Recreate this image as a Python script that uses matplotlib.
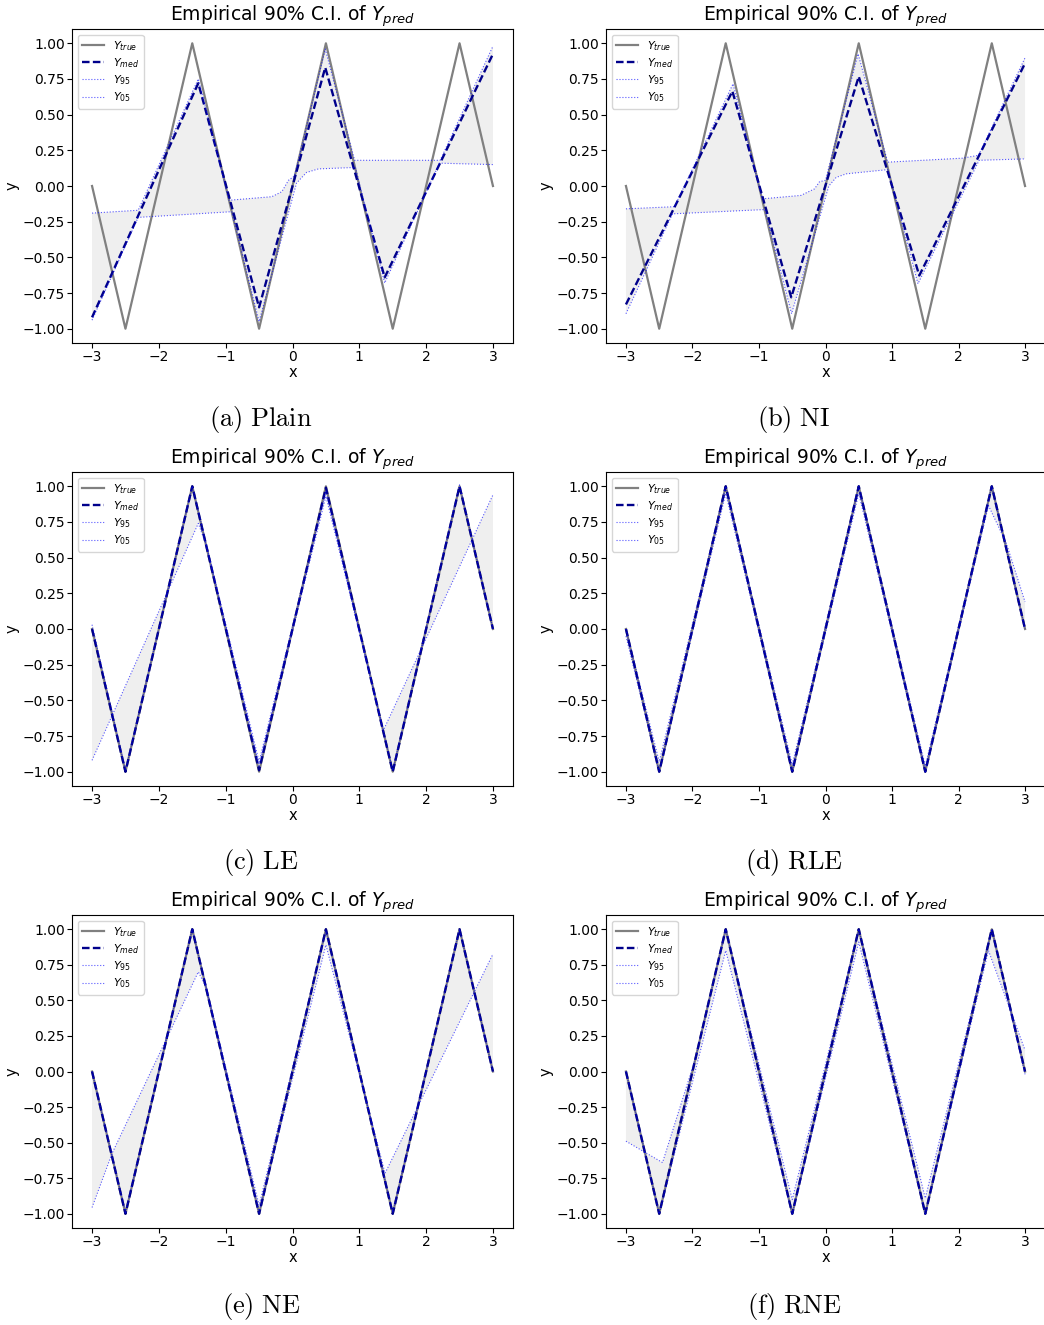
import matplotlib
matplotlib.use("Agg")
import matplotlib.pyplot as plt
import numpy as np

# ---------------- data ----------------
x_true = [-3.0, -2.5, -1.5, -0.5, 0.5, 1.5, 2.5, 3.0]
y_true = [0.0, -1.0, 1.0, -1.0, 1.0, -1.0, 1.0, 0.0]

# (a) Plain
plain_med_x = [-3.0, -1.41, -0.5, 0.49, 1.38, 3.0]
plain_med_y = [-0.92, 0.72, -0.85, 0.83, -0.64, 0.925]
plain_q95_x = [-3.0, -2.31, -1.41, -0.95, -0.31, -0.16, -0.06, 0.03, 0.49, 0.93, 2.21, 3.0]
plain_q95_y = [-0.19, -0.17, 0.75, -0.10, -0.075, -0.04, 0.04, 0.07, 0.96, 0.18, 0.18, 0.98]
plain_q05_x = [-3.0, -2.31, -0.91, -0.5, 0.06, 0.21, 0.39, 0.94, 1.38, 2.20, 3.0]
plain_q05_y = [-0.94, -0.22, -0.18, -0.95, 0.02, 0.095, 0.12, 0.13, -0.68, 0.16, 0.15]

# (b) NI
ni_med_x = [-3.0, -1.40, -0.515, 0.50, 1.41, 3.0]
ni_med_y = [-0.83, 0.664, -0.78, 0.767, -0.627, 0.86]
ni_q95_x = [-3.0, -2.27, -1.39, -0.95, -0.37, -0.165, -0.09, 0.0, 0.49, 0.935, 2.06, 2.3, 3.0]
ni_q95_y = [-0.16, -0.145, 0.716, -0.09, -0.066, -0.02, 0.03, 0.04, 0.926, 0.167, 0.195, 0.215, 0.898]
ni_q05_x = [-3.0, -2.30, -0.91, -0.51, 0.05, 0.16, 0.31, 0.94, 1.39, 2.31, 3.0]
ni_q05_y = [-0.895, -0.195, -0.165, -0.895, 0.0, 0.06, 0.085, 0.115, -0.685, 0.18, 0.19]

# (c) LE
le_med_x = [-3.0, -2.5, -1.5, -0.5, 0.5, 1.5, 2.5, 3.0]
le_med_y = [0.0, -1.0, 1.0, -0.99, 0.99, -1.0, 1.0, 0.0]
le_q95_x = [-3.0, -2.5, -1.5, -0.5, 0.5, 1.5, 2.5, 3.0]
le_q95_y = [0.03, -0.99, 1.0, -0.93, 0.97, -0.99, 1.01, 0.0]
le_q05_x = [-3.0, -1.41, -1.3, -0.5, 0.5, 1.36, 3.0]
le_q05_y = [-0.92, 0.74, 0.60, -0.96, 0.93, -0.71, 0.94]

# (d) RLE
rle_med_x = [-3.0, -2.5, -1.5, -0.5, 0.5, 1.5, 2.5, 3.0]
rle_med_y = [0.0, -1.0, 1.0, -1.0, 1.0, -1.0, 1.0, 0.0]
rle_q95_x = [-3.0, -2.5, -1.5, -0.5, 0.5, 1.5, 2.5, 3.0]
rle_q95_y = [0.0, -0.93, 1.0, -0.95, 1.0, -0.96, 1.0, 0.0]
rle_q05_x = [-3.0, -2.5, -1.5, -0.5, 0.5, 1.5, 2.45, 2.72, 3.0]
rle_q05_y = [-0.05, -1.0, 0.95, -1.0, 0.95, -1.0, 0.865, 0.60, 0.19]

# (e) NE
ne_med_x = [-3.0, -2.5, -1.5, -0.5, 0.5, 1.5, 2.5, 3.0]
ne_med_y = [0.0, -1.0, 1.0, -1.0, 1.0, -1.0, 1.0, 0.0]
ne_q95_x = [-3.0, -2.5, -1.5, -0.5, 0.5, 1.5, 2.5, 3.0]
ne_q95_y = [0.0, -0.99, 1.0, -0.94, 0.99, -0.99, 1.0, 0.0]
ne_q05_x = [-3.0, -2.7, -1.41, -1.3, -0.5, 0.5, 1.385, 3.0]
ne_q05_y = [-0.956, -0.575, 0.70, 0.60, -0.99, 0.89, -0.715, 0.826]

# (f) RNE
rne_med_x = [-3.0, -2.5, -1.5, -0.5, 0.5, 1.5, 2.5, 3.0]
rne_med_y = [0.0, -1.0, 1.0, -1.0, 1.0, -1.0, 1.0, 0.0]
rne_q95_x = [-3.0, -2.45, -1.95, -1.5, -0.5, 0.5, 1.5, 2.5, 3.0]
rne_q95_y = [-0.49, -0.64, 0.10, 1.0, -0.90, 1.0, -0.89, 1.0, -0.02]
rne_q05_x = [-3.0, -2.5, -1.5, -0.5, 0.5, 1.5, 2.45, 3.0]
rne_q05_y = [0.0, -1.0, 0.85, -1.0, 0.91, -1.0, 0.85, 0.15]

captions = ["(a) Plain", "(b) NI", "(c) LE", "(d) RLE", "(e) NE", "(f) RNE"]
panels = [
    (plain_med_x, plain_med_y, plain_q95_x, plain_q95_y, plain_q05_x, plain_q05_y),
    (ni_med_x, ni_med_y, ni_q95_x, ni_q95_y, ni_q05_x, ni_q05_y),
    (le_med_x, le_med_y, le_q95_x, le_q95_y, le_q05_x, le_q05_y),
    (rle_med_x, rle_med_y, rle_q95_x, rle_q95_y, rle_q05_x, rle_q05_y),
    (ne_med_x, ne_med_y, ne_q95_x, ne_q95_y, ne_q05_x, ne_q05_y),
    (rne_med_x, rne_med_y, rne_q95_x, rne_q95_y, rne_q05_x, rne_q05_y),
]

# ---------------- layout ----------------
W, H = 1044, 1325
fig = plt.figure(figsize=(W / 100, H / 100), dpi=100)

col_left = [72, 606]
col_right = [513, 1045]
row_top = [29, 472, 915]
row_bot = [343, 786, 1228]
cap_x = [261, 794]
cap_y = [419, 862, 1306]

for i, (mx, my, ax95, ay95, ax05, ay05) in enumerate(panels):
    r, c = divmod(i, 2)
    l = col_left[c] / W
    w = (col_right[c] - col_left[c]) / W
    b = 1 - row_bot[r] / H
    h = (row_bot[r] - row_top[r]) / H
    ax = fig.add_axes([l, b, w, h])

    poly_x = np.concatenate([np.asarray(ax95), np.asarray(ax05)[::-1]])
    poly_y = np.concatenate([np.asarray(ay95), np.asarray(ay05)[::-1]])
    ax.fill(poly_x, poly_y, facecolor="#efefef", edgecolor="none", zorder=1)

    ax.plot(x_true, y_true, color="gray", lw=1.6, label=r"$Y_{true}$", zorder=2)
    ax.plot(mx, my, color="darkblue", lw=1.7, linestyle=(0, (3.2, 1.4)),
            label=r"$Y_{med}$", zorder=3)
    ax.plot(ax95, ay95, color="blue", lw=0.8, alpha=0.65, linestyle=":",
            label=r"$Y_{95}$", zorder=4)
    ax.plot(ax05, ay05, color="blue", lw=0.8, alpha=0.65, linestyle=":",
            label=r"$Y_{05}$", zorder=4)

    ax.set_xlim(-3.3, 3.3)
    ax.set_ylim(-1.1, 1.1)
    ax.set_xticks([-3, -2, -1, 0, 1, 2, 3])
    ax.set_yticks([-1.0, -0.75, -0.5, -0.25, 0.0, 0.25, 0.5, 0.75, 1.0])
    ax.tick_params(labelsize=10, pad=1.5)
    ax.set_xlabel("x", fontsize=10.5, labelpad=1)
    ax.set_ylabel("y", fontsize=10.5, labelpad=2)
    ax.set_title(r"Empirical 90% C.I. of $Y_{pred}$", fontsize=13.5, pad=5)
    ax.legend(loc="upper left", fontsize=8, handlelength=2.0, labelspacing=0.3)

    fig.text(cap_x[c] / W, 1 - cap_y[r] / H, r"$\mathrm{" + captions[i].replace(" ", r"\ ") + "}$",
             math_fontfamily="cm", fontsize=19, ha="center", va="center")

fig.savefig("out.png", dpi=100)
